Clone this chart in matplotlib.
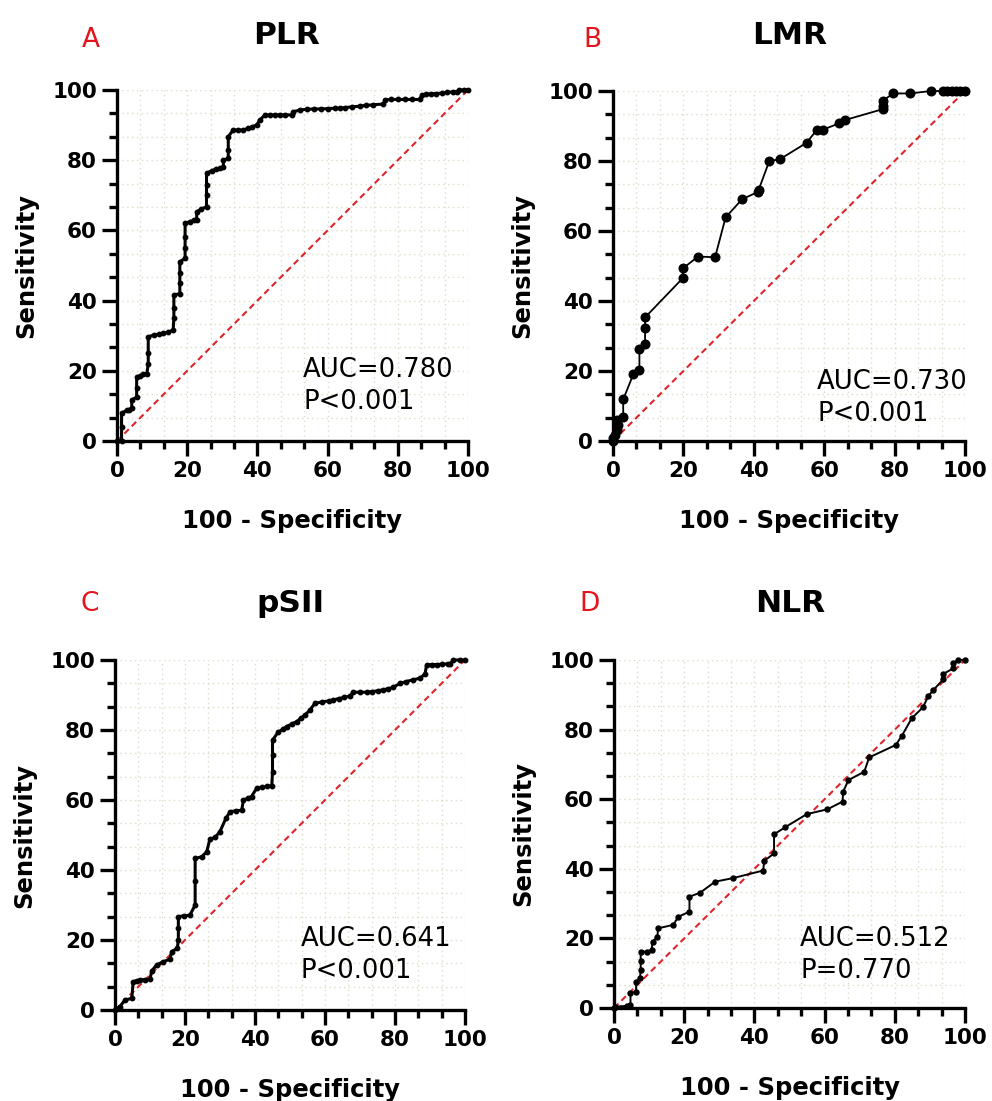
import matplotlib
matplotlib.use("Agg")
import matplotlib.pyplot as plt
from matplotlib.ticker import MultipleLocator
import numpy as np

plt.rcParams['font.family'] = ['DejaVu Sans']

W, H = 992, 1101

# ---------------- data (100 - specificity, sensitivity) ----------------
plr_x = [0, 1.3, 1.3, 1.3, 2.8, 3.3, 4.2, 4.2, 5.6, 5.6, 5.6, 6.5, 7.5, 8.5, 8.9, 8.9, 8.9,
         10.5, 12.0, 13.2, 14.5, 16.0, 16.2, 16.2, 16.2, 17.9, 17.9, 17.9, 17.9, 19.4, 19.4,
         19.4, 19.4, 20.8, 22.0, 22.7, 22.7, 24.0, 25.5, 25.5, 25.5, 25.5, 27.0, 28.3, 29.3,
         30.3, 30.3, 31.7, 31.7, 31.7, 33.1, 34.5, 36.0, 37.4, 38.6, 39.8, 40.7, 42.2, 43.5,
         45.0, 46.5, 48.0, 49.8, 50.2, 52.1, 54.0, 56.0, 58.0, 60.0, 62.0, 63.5, 65.0, 67.0,
         69.2, 71.0, 73.0, 75.9, 76.4, 78.0, 80.0, 82.0, 84.0, 86.3, 86.8, 88.0, 89.5, 91.0,
         92.5, 94.0, 95.8, 97.0, 97.5, 99.0, 100]
plr_y = [0, 0, 4.0, 7.9, 8.8, 8.8, 9.5, 11.7, 12.5, 15.0, 18.3, 18.5, 19.2, 19.2, 22.0, 25.0, 29.7,
         30.2, 30.4, 30.7, 31.0, 31.6, 35.0, 38.0, 41.6, 42.0, 45.0, 48.0, 51.1, 52.0, 55.0,
         58.0, 62.0, 62.5, 63.0, 63.0, 65.3, 66.0, 66.8, 70.0, 73.0, 76.3, 77.0, 77.5, 77.7,
         78.0, 80.0, 80.5, 83.0, 86.7, 88.6, 88.6, 88.6, 89.1, 89.6, 90.0, 91.5, 92.9, 92.9,
         92.9, 92.9, 92.9, 92.9, 93.8, 94.3, 94.5, 94.6, 94.6, 94.7, 94.8, 94.8, 95.0, 95.2,
         95.4, 95.6, 95.8, 96.0, 97.2, 97.3, 97.3, 97.3, 97.3, 97.3, 98.6, 98.8, 98.9, 99.0,
         99.1, 99.3, 99.5, 99.5, 100, 100, 100]

lmr_x = [0, 0.1, 0.6, 1.0, 1.5, 1.0, 2.9, 2.9, 5.8, 7.5, 7.5, 9.1, 9.1, 9.1, 19.8, 19.8, 24.2,
         29.0, 32.0, 36.7, 41.3, 41.4, 44.4, 47.4, 55.0, 58.0, 59.8, 64.3, 65.9, 76.6, 76.6,
         76.6, 79.6, 84.4, 90.3, 93.8, 95.0, 96.2, 97.4, 98.6, 100]
lmr_y = [0, 0.8, 1.7, 3.1, 4.6, 6.0, 6.8, 11.9, 19.1, 20.3, 26.2, 27.7, 32.2, 35.3, 46.5, 49.3,
         52.7, 52.5, 63.9, 69.1, 71.2, 71.8, 80.0, 80.5, 85.2, 89.0, 89.0, 90.8, 91.7, 94.8,
         95.7, 97.2, 99.3, 99.3, 100, 100, 100, 100, 100, 100, 100]

psii_x = [0, 1.4, 2.9, 4.8, 5.2, 6.2, 7.1, 8.6, 10.0, 10.5, 11.9, 13.8, 15.7, 16.2, 17.8, 18.1,
          18.1, 18.1, 19.8, 21.4, 22.9, 22.9, 22.9, 24.8, 26.2, 27.1, 28.6, 30.0, 31.7, 32.9,
          34.5, 36.2, 36.7, 38.0, 39.0, 40.5, 42.0, 43.5, 44.8, 45.0, 45.0, 45.0, 46.7, 48.0,
          49.0, 50.5, 51.9, 53.0, 54.3, 55.7, 57.1, 59.0, 61.0, 62.4, 64.0, 65.5, 67.1, 68.1,
          70.0, 71.9, 73.5, 75.0, 76.7, 78.0, 79.5, 81.4, 83.0, 85.0, 87.1, 88.6, 89.0, 90.5,
          92.0, 93.5, 95.0, 95.7, 96.7, 98.5, 100]
psii_y = [0, 1.0, 2.9, 3.3, 8.1, 8.4, 8.6, 8.7, 8.8, 11.2, 12.9, 13.8, 14.5, 16.7, 17.6, 20.0,
          23.5, 26.7, 26.9, 27.1, 30.0, 37.0, 43.3, 43.8, 45.2, 48.8, 49.3, 51.0, 54.8, 56.7,
          56.9, 57.1, 60.0, 60.5, 61.0, 63.4, 63.7, 63.9, 64.1, 68.0, 73.0, 77.1, 79.5, 80.2,
          81.0, 81.7, 82.4, 83.3, 84.3, 85.7, 87.6, 88.0, 88.3, 88.6, 89.0, 89.3, 89.7, 90.8,
          90.8, 90.8, 91.0, 91.2, 91.5, 91.8, 92.2, 93.3, 93.8, 94.3, 94.8, 96.0, 98.6, 98.7,
          98.7, 98.8, 98.9, 98.9, 100, 100, 100]

nlr_x = [0, 0.3, 3.6, 4.7, 4.7, 6.3, 6.3, 7.4, 7.6, 7.6, 7.6, 9.3, 10.7, 11.0, 12.3, 12.6, 16.9,
         18.3, 21.5, 21.5, 24.5, 28.8, 33.8, 42.5, 42.8, 45.6, 45.6, 48.7, 54.9, 60.8, 65.1,
         65.3, 66.8, 71.3, 72.7, 80.3, 82.0, 84.8, 88.0, 89.6, 91.0, 93.8, 93.8, 96.7, 96.7,
         98.1, 100]
nlr_y = [0, 0.4, 0.6, 0.9, 4.2, 4.7, 7.6, 8.5, 11.0, 13.5, 16.2, 16.2, 16.7, 19.1, 20.3, 22.9,
         23.9, 26.2, 27.7, 32.0, 33.1, 36.3, 37.3, 39.5, 42.3, 44.4, 49.9, 51.9, 55.7, 57.1,
         59.3, 62.2, 65.5, 67.9, 72.0, 75.6, 78.2, 83.2, 86.4, 89.7, 91.4, 94.4, 96.0, 97.6,
         99.0, 100, 100]

titles = ["PLR", "LMR", "pSII", "NLR"]
letters = ["A", "B", "C", "D"]
auc_text = ["AUC=0.780\nP<0.001", "AUC=0.730\nP<0.001", "AUC=0.641\nP<0.001", "AUC=0.512\nP=0.770"]
curves = [(plr_x, plr_y), (lmr_x, lmr_y), (psii_x, psii_y), (nlr_x, nlr_y)]

# ---------------- layout (pixel positions) ----------------
axes_px = [(117, 468, 90, 441), (613, 965, 91, 441), (115, 465, 660, 1010), (614, 965, 660, 1008)]
title_px = [(287, 35), (790, 35), (290, 603), (790, 603)]
letter_px = [(91, 40), (592, 40), (90, 604), (590, 604)]
auc_pos = [(53, 24.0), (58, 20.5), (53, 24.0), (53, 23.5)]
styles = [dict(lw=2.2, ms=3.2), dict(lw=1.3, ms=6.2), dict(lw=2.2, ms=3.2), dict(lw=1.4, ms=3.6)]

fig = plt.figure(figsize=(W / 100, H / 100), dpi=100)
fig.patch.set_facecolor("white")

for i in range(4):
    l, r, t, b = axes_px[i]
    ax = fig.add_axes([l / W, 1 - b / H, (r - l) / W, (b - t) / H])
    ax.set_xlim(0, 100)
    ax.set_ylim(0, 100)
    for s in ["top", "right"]:
        ax.spines[s].set_visible(False)
    for s in ["left", "bottom"]:
        ax.spines[s].set_linewidth(2.4)
    ax.xaxis.set_major_locator(MultipleLocator(20))
    ax.yaxis.set_major_locator(MultipleLocator(20))
    ax.xaxis.set_minor_locator(MultipleLocator(20 / 3))
    ax.yaxis.set_minor_locator(MultipleLocator(20 / 3))
    ax.tick_params(which="major", length=10.5, width=2.4, labelsize=15.5, pad=4)
    ax.tick_params(which="minor", length=5.8, width=2.4)
    for lab in ax.get_xticklabels() + ax.get_yticklabels():
        lab.set_fontweight("bold")
    ax.grid(which="both", color="#dcdcc8", linestyle=(0, (1, 2.5)), linewidth=1.0)
    ax.set_axisbelow(True)

    ax.plot([0, 100], [0, 100], color="#e0242a", linestyle=(0, (3, 2)), lw=1.5, zorder=2,
            clip_on=False)
    x, y = curves[i]
    ax.plot(x, y, color="black", marker="o", lw=styles[i]["lw"], ms=styles[i]["ms"],
            zorder=3, clip_on=False)

    ax.set_xlabel("100 - Specificity", fontsize=17.5, fontweight="bold")
    ax.set_ylabel("Sensitivity", fontsize=17.5, fontweight="bold")
    ax.xaxis.set_label_coords(0.5, -0.195)
    ax.yaxis.set_label_coords(-0.225, 0.5)

    ax.text(auc_pos[i][0], auc_pos[i][1], auc_text[i], fontsize=18.6, va="top", ha="left",
            linespacing=1.3, zorder=4)

    tx, ty = title_px[i]
    fig.text(tx / W, 1 - ty / H, titles[i], fontsize=22.5, fontweight="bold",
             ha="center", va="center")
    lx, ly = letter_px[i]
    fig.text(lx / W, 1 - ly / H, letters[i], fontsize=19, color="#e3141b",
             ha="center", va="center")

fig.savefig("out.png", dpi=100, facecolor="white")
